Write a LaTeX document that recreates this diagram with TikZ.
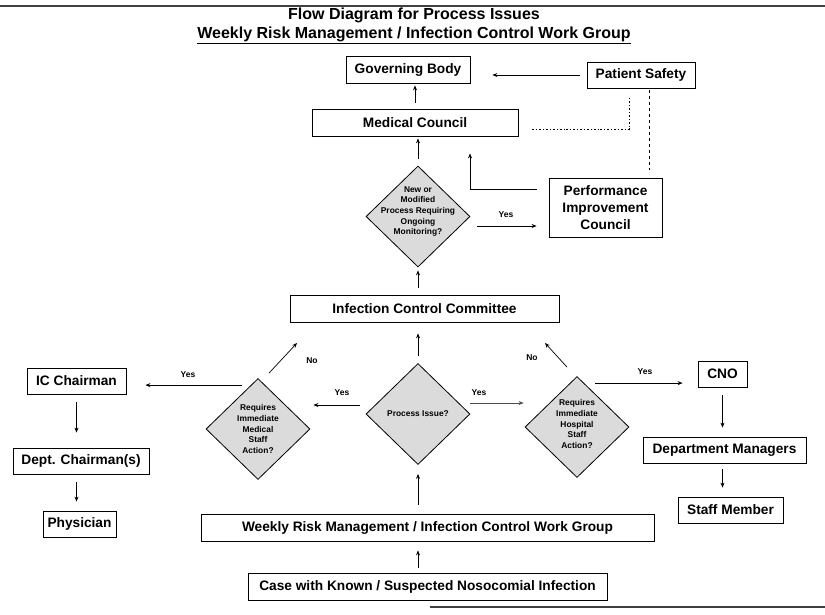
\documentclass[tikz,border=0pt]{standalone}
\usepackage{fontspec}
\setmainfont{Liberation Sans}
\usetikzlibrary{shapes.geometric,arrows.meta,calc,positioning}

\begin{document}
\begin{tikzpicture}[x=1pt,y=-1pt,
  box/.style={draw, line width=0.8pt, inner sep=0pt, align=center, font=\fontsize{13.7}{17}\selectfont\bfseries},
  dia/.style={diamond, draw, fill=gray!28, line width=0.8pt, inner sep=0pt, minimum width=104pt, minimum height=101pt},
  dtext/.style={align=center, inner sep=0pt, font=\fontsize{8.4}{10.7}\selectfont\bfseries},
  lab/.style={font=\fontsize{8.5}{10}\selectfont\bfseries},
  arr/.style={-{Stealth[length=5pt,width=4pt]}, line width=0.7pt},
  dotline/.style={line width=0.7pt, dash pattern=on 2pt off 2pt on 0.8pt off 2pt},
  dashline/.style={line width=0.7pt, dash pattern=on 3pt off 3pt}]

  \useasboundingbox (0,0) rectangle (825,614);

  % rules and titles
  \draw[line width=1.2pt, black!75] (0,6) -- (825,6);
  \draw[line width=1.2pt, black!75] (430,607) -- (825,607);
  \node[font=\fontsize{16}{18}\selectfont\bfseries] (title) at (414,15.5) {Flow Diagram for Process Issues};
  \node[font=\fontsize{16}{18}\selectfont\bfseries] (subtitle) at (414,35) {\underline{Weekly Risk Management / Infection Control Work Group}};

  % boxes
  \node[box, minimum width=124pt, minimum height=27pt] (gov) at (408,69.5) {Governing Body};
  \node[box, minimum width=108pt, minimum height=26pt] (patsafe) at (641,75) {Patient Safety};
  \node[box, minimum width=206pt, minimum height=27pt] (medcouncil) at (415,122.5) {Medical Council};
  \node[box, minimum width=113pt, minimum height=59pt] (pic) at (605.5,207.5) {Performance\\Improvement\\Council};
  \node[box, minimum width=269pt, minimum height=27pt] (icc) at (424.5,308.5) {Infection Control Committee};
  \node[box, minimum width=99pt, minimum height=26pt] (icchair) at (76.5,381) {IC Chairman};
  \node[box, minimum width=136pt, minimum height=26pt] (deptchair) at (81,461) {Dept. Chairman(s)};
  \node[box, minimum width=73pt, minimum height=26pt] (physician) at (79.5,524) {Physician};
  \node[box, minimum width=49pt, minimum height=26pt] (cno) at (722.5,374) {CNO};
  \node[box, minimum width=163pt, minimum height=26pt] (deptmgr) at (724.5,450) {Department Managers};
  \node[box, minimum width=105pt, minimum height=26pt] (staff) at (730.5,510) {Staff Member};
  \node[box, minimum width=453pt, minimum height=27pt] (weekly) at (427.5,527.5) {Weekly Risk Management / Infection Control Work Group};
  \node[box, minimum width=359pt, minimum height=27pt] (case) at (427.5,586.5) {Case with Known / Suspected Nosocomial Infection};

  % decisions
  \node[dia, label={[dtext, yshift=5pt]center:{New or\\Modified\\Process Requiring\\Ongoing\\Monitoring?}}] (dmon) at (418,216.5) {};
  \node[dia, label={[dtext]center:{Process Issue?}}] (dproc) at (418,414) {};
  \node[dia, label={[dtext]center:{Requires\\Immediate\\Medical\\Staff\\Action?}}] (dmed) at (258,429) {};
  \node[dia, label={[dtext, yshift=3pt]center:{Requires\\Immediate\\Hospital\\Staff\\Action?}}] (dhosp) at (577,427) {};

  \coordinate (yesmon) at ($(dmon.east)+(7,9.5)$);
  \coordinate (yesproc) at ($(dproc.west)+(-6,-9)$);
  \coordinate (yesproc2) at ($(dproc.east)+(0,-11)$);
  \coordinate (yesmed) at ($(dmed.north)+(-16,7)$);
  \coordinate (yeshosp) at ($(dhosp.north)+(18,7)$);
  \coordinate (nomed) at ($(dmed.north)+(11,-5)$);
  \coordinate (nomedend) at (297,343);
  \coordinate (nohosp) at ($(dhosp.north)+(-10,-9)$);
  \coordinate (nohospend) at (545,343);

  % upward flow
  \draw[arr, shorten <=5pt, shorten >=9pt] (case.north -| dproc.south) -- (weekly.south -| dproc.south);
  \draw[arr, shorten <=9pt, shorten >=9pt] (weekly.north -| dproc.south) -- (dproc.south);
  \draw[arr, shorten <=7pt, shorten >=11pt] (dproc.north) -- (dproc.north |- icc.south);
  \draw[arr, shorten <=7pt, shorten >=3pt] (icc.north -| dmon.south) -- (dmon.south);
  \draw[arr, shorten <=7pt, shorten >=2pt] (dmon.north) -- (dmon.north |- medcouncil.south);
  \draw[arr, shorten <=6pt, shorten >=2pt] (medcouncil.north) -- (medcouncil.north |- gov.south);
  \draw[arr, shorten <=7pt, shorten >=22pt] (patsafe.west) -- (gov.east |- patsafe.west);
  \draw[arr, shorten <=12pt, shorten >=17pt] ([yshift=18.5pt]pic.west) -| ([xshift=55pt]medcouncil.south);
  \draw[arr, shorten >=12pt] (yesmon) -- (yesmon -| pic.west);
  \draw[dotline] ([xshift=14pt,yshift=-6.5pt]medcouncil.east) -| ([xshift=-12pt,yshift=-9pt]patsafe.south);
  \draw[dashline] ([xshift=8pt,yshift=-2pt]patsafe.south) -- ([xshift=43.5pt,yshift=8pt]pic.north);

  % side branches
  \draw[arr, shorten >=3pt] (yesproc) -- (yesproc -| dmed.east);
  \draw[arr, line width=0.5pt, black!70, shorten >=1pt] (yesproc2) -- (yesproc2 -| dhosp.west);
  \draw[arr, shorten >=19pt] (yesmed) -- (yesmed -| icchair.east);
  \draw[arr, shorten >=15pt] (yeshosp) -- (yeshosp -| cno.west);
  \draw[arr] (nomed) -- (nomedend);
  \draw[arr] (nohosp) -- (nohospend);
  \draw[arr, shorten <=8pt, shorten >=15pt] (icchair.south) -- (icchair.south |- deptchair.north);
  \draw[arr, shorten <=8pt, shorten >=9pt] (deptchair.south -| icchair.south) -- (physician.north -| icchair.south);
  \draw[arr, shorten <=8pt, shorten >=9pt] (cno.south) -- (cno.south |- deptmgr.north);
  \draw[arr, shorten <=6pt, shorten >=9pt] (deptmgr.south -| cno.south) -- (staff.north -| cno.south);

  % labels
  \node[lab] (yesa) at (506,215) {Yes};
  \node[lab] (yesb) at (342,393) {Yes};
  \node[lab] (yesc) at (479,393) {Yes};
  \node[lab] (yesd) at (188,375) {Yes};
  \node[lab] (yese) at (645,372) {Yes};
  \node[lab] (noa) at (312,361) {No};
  \node[lab] (nob) at (532,358) {No};

\end{tikzpicture}
\end{document}
